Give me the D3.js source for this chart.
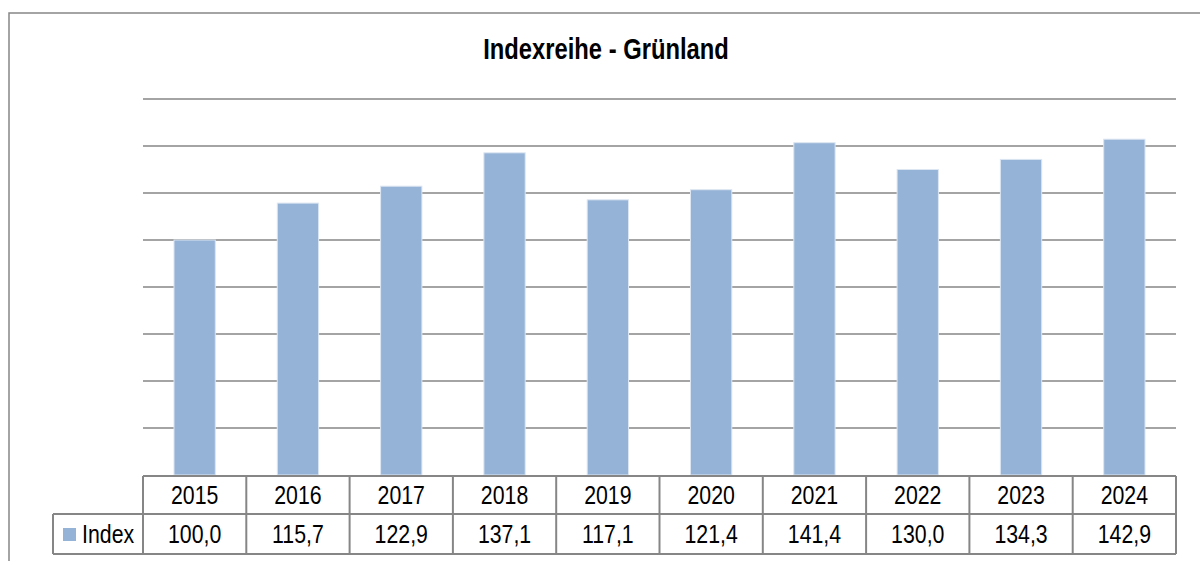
<!DOCTYPE html>
<html>
<head>
<meta charset="utf-8">
<script src="https://cdn.jsdelivr.net/npm/d3@7/dist/d3.min.js"></script>
<style>
  body { margin: 0; background: #fff; }
  svg { display: block; }
</style>
</head>
<body>
<div id="chart"></div>
<script>
// chart data
const years = ['2015', '2016', '2017', '2018', '2019', '2020', '2021', '2022', '2023', '2024'];
const indexValues = [100.0, 115.7, 122.9, 137.1, 117.1, 121.4, 141.4, 130.0, 134.3, 142.9];
const gridTicks = [0, 20, 40, 60, 80, 100, 120, 140, 160];
const seriesName = 'Index';
const chartTitle = 'Indexreihe - Grünland';

const W = 1200, H = 561;
// no narrow font installed, so squeeze Liberation Sans horizontally
const font = '"Liberation Sans Narrow", "Arial Narrow", "Liberation Sans", Arial, sans-serif';
const squeeze = 0.82;
const barColor = '#95B3D7';
const lineColor = '#868686';

const plot = { left: 143, right: 1176, top: 99, bottom: 475 };
const rowH = [476, 514, 554]; // table row edges
const legendLeft = 53;

const svg = d3.select('#chart').append('svg')
  .attr('width', W)
  .attr('height', H);

// helper: narrow text at a point
function label(parent, px, py, str, opts = {}) {
  const g = parent.append('g').attr('transform', `translate(${px},${py}) scale(${squeeze},1)`);
  return g.append('text')
    .attr('text-anchor', opts.anchor || 'middle')
    .attr('dy', opts.dy || '0.36em')
    .style('font-family', font)
    .style('font-size', (opts.size || 26) + 'px')
    .style('font-weight', opts.weight || 'normal')
    .attr('fill', '#000')
    .text(str);
}

// outer chart frame (runs past the picture edge)
svg.append('rect')
  .attr('x', 9).attr('y', 13)
  .attr('width', 1300).attr('height', 700)
  .attr('fill', 'none')
  .attr('stroke', lineColor)
  .attr('stroke-width', 1.5);

label(svg, 606, 59, chartTitle, { size: 29, weight: 'bold', dy: '0' });

const x = d3.scaleBand()
  .domain(years)
  .range([plot.left, plot.right])
  .paddingInner(0.6)
  .paddingOuter(0.3);

const xCol = d3.scaleBand()
  .domain(years)
  .range([plot.left, plot.right]);

const y = d3.scaleLinear()
  .domain([0, 160])
  .range([plot.bottom, plot.top]);

// gridlines
svg.append('g')
  .selectAll('line')
  .data(gridTicks.filter(d => d > 0))
  .join('line')
  .attr('x1', plot.left).attr('x2', plot.right)
  .attr('y1', d => y(d)).attr('y2', d => y(d))
  .attr('stroke', lineColor)
  .attr('stroke-width', 1.5);

// bars
svg.append('g')
  .selectAll('rect')
  .data(indexValues)
  .join('rect')
  .attr('x', (d, i) => x(years[i]))
  .attr('width', x.bandwidth())
  .attr('y', d => y(d))
  .attr('height', d => y(0) - y(d))
  .attr('fill', barColor)
  .attr('stroke', '#dce6f2')
  .attr('stroke-width', 1);

// data table
const table = svg.append('g')
  .attr('fill', 'none')
  .attr('stroke', lineColor)
  .attr('stroke-width', 2);

// horizontal lines
table.append('line')
  .attr('x1', plot.left).attr('x2', plot.right)
  .attr('y1', rowH[0]).attr('y2', rowH[0]);
table.append('line')
  .attr('x1', legendLeft).attr('x2', plot.right)
  .attr('y1', rowH[1]).attr('y2', rowH[1]);
table.append('line')
  .attr('x1', legendLeft).attr('x2', plot.right)
  .attr('y1', rowH[2]).attr('y2', rowH[2]);

// vertical lines
table.append('line')
  .attr('x1', legendLeft).attr('x2', legendLeft)
  .attr('y1', rowH[1]).attr('y2', rowH[2]);
table.selectAll('.col')
  .data(years)
  .join('line')
  .attr('class', 'col')
  .attr('x1', d => xCol(d)).attr('x2', d => xCol(d))
  .attr('y1', rowH[0]).attr('y2', rowH[2]);
table.append('line')
  .attr('x1', plot.right).attr('x2', plot.right)
  .attr('y1', rowH[0]).attr('y2', rowH[2]);

// year labels
const yearRow = svg.append('g');
years.forEach(d => {
  label(yearRow, xCol(d) + xCol.bandwidth() / 2, (rowH[0] + rowH[1]) / 2, d);
});

// value labels
const fmt = v => v.toFixed(1).replace('.', ',');
const valueRow = svg.append('g');
indexValues.forEach((v, i) => {
  label(valueRow, xCol(years[i]) + xCol.bandwidth() / 2, (rowH[1] + rowH[2]) / 2, fmt(v));
});

// legend key
svg.append('rect')
  .attr('x', 63).attr('y', 528)
  .attr('width', 13).attr('height', 13)
  .attr('fill', barColor);
label(svg, 82, (rowH[1] + rowH[2]) / 2, seriesName, { anchor: 'start' });
</script>
</body>
</html>
